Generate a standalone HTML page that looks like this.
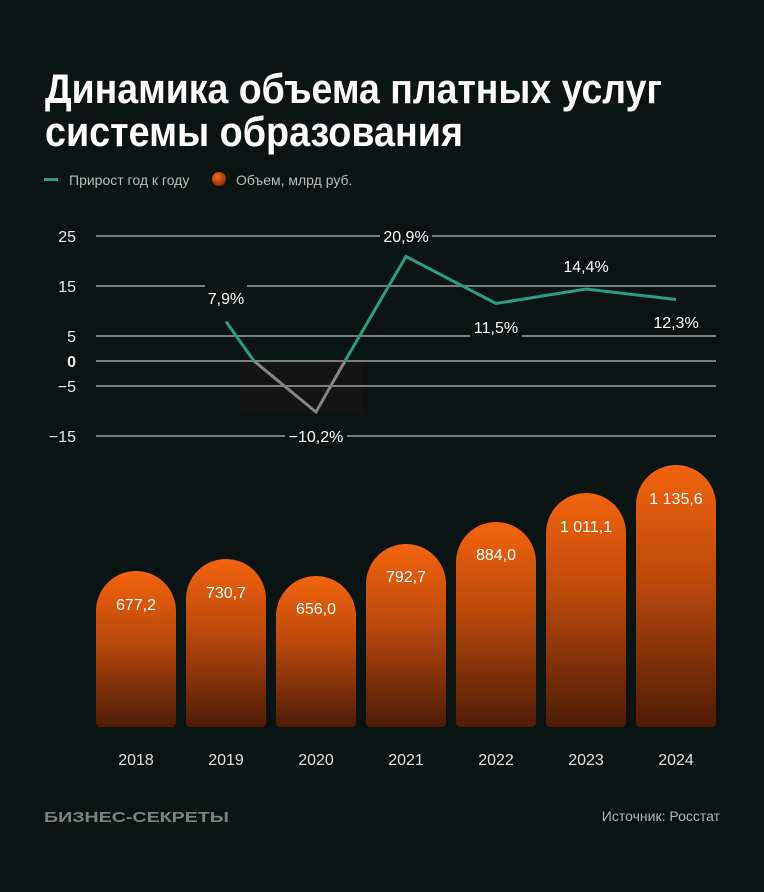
<!DOCTYPE html>
<html><head><meta charset="utf-8"><style>
html,body{margin:0;padding:0;background:#0a1513;}
svg{display:block}
text{font-family:"Liberation Sans",sans-serif;}
</style></head><body>
<svg width="764" height="892" viewBox="0 0 764 892" xmlns="http://www.w3.org/2000/svg">
<defs>
<linearGradient id="g" x1="0" y1="0" x2="0" y2="1" gradientUnits="objectBoundingBox">
<stop offset="0" stop-color="#f3640f"/><stop offset="0.45" stop-color="#b8480c"/><stop offset="1" stop-color="#4e1c05"/>
</linearGradient>
<radialGradient id="d" cx="0.4" cy="0.35" r="0.7"><stop offset="0" stop-color="#f06a1a"/><stop offset="1" stop-color="#8a2a05"/></radialGradient>
</defs>
<rect width="764" height="892" fill="#0a1513"/>
<text x="45" y="103" font-size="42" font-weight="bold" fill="#fff" textLength="617" lengthAdjust="spacingAndGlyphs">Динамика объема платных услуг</text>
<text x="45" y="146" font-size="42" font-weight="bold" fill="#fff" textLength="418" lengthAdjust="spacingAndGlyphs">системы образования</text>
<rect x="44" y="178" width="14" height="3" fill="#2a9d84"/>
<text x="69" y="185" font-size="14" fill="#b8bcbb">Прирост год к году</text>
<circle cx="219" cy="179" r="7" fill="url(#d)"/>
<text x="236" y="185" font-size="14" fill="#b8bcbb">Объем, млрд руб.</text>
<rect x="240" y="361" width="123" height="52" fill="#141414"/>
<g stroke="#7a7d7c" stroke-width="2">
<line x1="96" y1="236" x2="716" y2="236"/><line x1="96" y1="286" x2="716" y2="286"/>
<line x1="96" y1="336" x2="716" y2="336"/><line x1="96" y1="361" x2="716" y2="361"/>
<line x1="96" y1="386" x2="716" y2="386"/><line x1="96" y1="436" x2="716" y2="436"/>
</g>
<g font-size="16" fill="#e8e8e8" text-anchor="end">
<text x="76" y="242">25</text><text x="76" y="292">15</text><text x="76" y="342">5</text>
<text x="76" y="367" font-weight="bold">0</text><text x="76" y="392">−5</text><text x="76" y="442">−15</text>
</g>
<polyline points="226,321.5 254,361" fill="none" stroke="#2a9d84" stroke-width="3"/>
<polyline points="254,361 316,412 345,361" fill="none" stroke="#858585" stroke-width="3"/>
<polyline points="345,361 406,256.5 496,303.5 586,289 676,299.5" fill="none" stroke="#2a9d84" stroke-width="3"/>
<g font-size="16" fill="#fff" text-anchor="middle">
<rect x="205" y="280" width="42" height="30" fill="#0a1513"/><text x="226" y="304">7,9%</text>
<rect x="285" y="425" width="62" height="20" fill="#0a1513"/><text x="316" y="442">−10,2%</text>
<rect x="380" y="226" width="52" height="20" fill="#0a1513"/><text x="406" y="242">20,9%</text>
<rect x="470" y="326" width="52" height="20" fill="#0a1513"/><text x="496" y="333">11,5%</text>
<text x="586" y="272">14,4%</text>
<text x="676" y="328">12,3%</text>
</g>
<g fill="url(#g)">
<path d="M96,727 V611 A40,40 0 0 1 176,611 V722 Q176,727 171,727 H101 Q96,727 96,722Z"/>
<path d="M186,727 V599 A40,40 0 0 1 266,599 V722 Q266,727 261,727 H191 Q186,727 186,722Z"/>
<path d="M276,727 V616 A40,40 0 0 1 356,616 V722 Q356,727 351,727 H281 Q276,727 276,722Z"/>
<path d="M366,727 V584 A40,40 0 0 1 446,584 V722 Q446,727 441,727 H371 Q366,727 366,722Z"/>
<path d="M456,727 V562 A40,40 0 0 1 536,562 V722 Q536,727 531,727 H461 Q456,727 456,722Z"/>
<path d="M546,727 V533 A40,40 0 0 1 626,533 V722 Q626,727 621,727 H551 Q546,727 546,722Z"/>
<path d="M636,727 V505 A40,40 0 0 1 716,505 V722 Q716,727 711,727 H641 Q636,727 636,722Z"/>
</g>
<g font-size="16" fill="#fff" text-anchor="middle">
<text x="136" y="610">677,2</text><text x="226" y="598">730,7</text><text x="316" y="614">656,0</text>
<text x="406" y="582">792,7</text><text x="496" y="560">884,0</text><text x="586" y="532">1 011,1</text>
<text x="676" y="504">1 135,6</text>
</g>
<g font-size="16" fill="#e0e0e0" text-anchor="middle">
<text x="136" y="765">2018</text><text x="226" y="765">2019</text><text x="316" y="765">2020</text>
<text x="406" y="765">2021</text><text x="496" y="765">2022</text><text x="586" y="765">2023</text>
<text x="676" y="765">2024</text>
</g>
<text x="44" y="822" font-size="15" font-weight="bold" fill="#7d817f" textLength="185" lengthAdjust="spacingAndGlyphs">БИЗНЕС-СЕКРЕТЫ</text>
<text x="720" y="821" font-size="14" fill="#b0b3b2" text-anchor="end">Источник: Росстат</text>
</svg>
</body></html>
